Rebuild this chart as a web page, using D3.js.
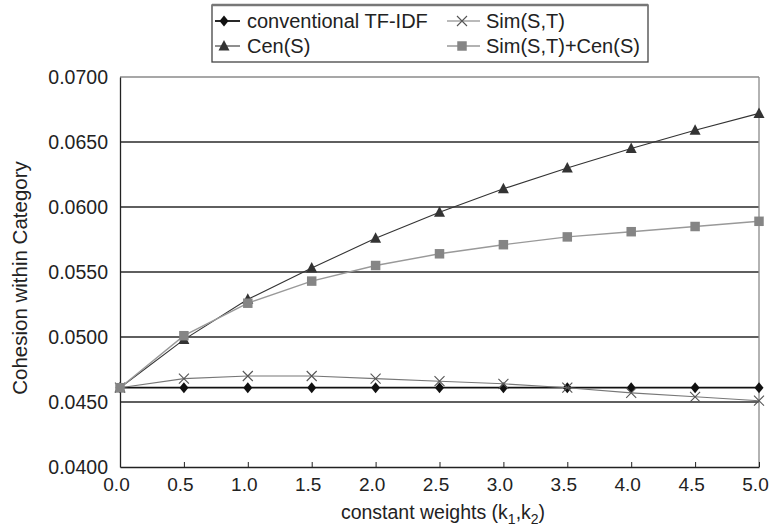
<!DOCTYPE html>
<html><head><meta charset="utf-8">
<script src="https://cdn.jsdelivr.net/npm/d3@7"></script>
<style>body{margin:0;background:#fff}svg{display:block}text{font-family:"Liberation Sans",Arial,sans-serif}</style>
</head><body><svg id="c" width="770" height="532"></svg>
<script>
const xValues = [0,0.5,1.0,1.5,2.0,2.5,3.0,3.5,4.0,4.5,5.0];
const tfidf  = [0.0461,0.0461,0.0461,0.0461,0.0461,0.0461,0.0461,0.0461,0.0461,0.0461,0.0461];
const cen    = [0.0461,0.0498,0.0529,0.0553,0.0576,0.0596,0.0614,0.0630,0.0645,0.0659,0.0672];
const sim    = [0.0461,0.0468,0.0470,0.0470,0.0468,0.0466,0.0464,0.0461,0.0457,0.0454,0.0451];
const simCen = [0.0461,0.0501,0.0526,0.0543,0.0555,0.0564,0.0571,0.0577,0.0581,0.0585,0.0589];
const yTicks = [0.040,0.045,0.050,0.055,0.060,0.065,0.070];
const xTicks = [0,0.5,1,1.5,2,2.5,3,3.5,4,4.5,5];
const seriesNames = ["conventional TF-IDF","Sim(S,T)","Cen(S)","Sim(S,T)+Cen(S)"];

const svg = d3.select("#c");
const L=120,R=759,T=77,B=467;
const x = d3.scaleLinear().domain([0,5]).range([L,R]);
const y = d3.scaleLinear().domain([0.040,0.070]).range([B,T]);

// gridlines
svg.append("g").selectAll("line").data(yTicks.filter(v=>v>0.0401&&v<0.0699)).join("line")
  .attr("x1",L).attr("x2",R).attr("y1",d=>y(d)).attr("y2",d=>y(d))
  .attr("stroke","#2a2a2a").attr("stroke-width",1.3);
// frame top/right
svg.append("line").attr("x1",L).attr("x2",R).attr("y1",T).attr("y2",T).attr("stroke","#8a8a8a").attr("stroke-width",1.3);
svg.append("line").attr("x1",R).attr("x2",R).attr("y1",T).attr("y2",B).attr("stroke","#8a8a8a").attr("stroke-width",1.3);

// axes
const xAxis = svg.append("g").attr("transform",`translate(0,${B})`)
  .call(d3.axisBottom(x).tickValues(xTicks).tickFormat(d3.format(".1f")).tickSizeInner(-5).tickSizeOuter(0).tickPadding(11));
xAxis.select(".domain").attr("stroke","#222").attr("stroke-width",1.3);
xAxis.selectAll(".tick line").attr("stroke","#222");
xAxis.selectAll("text").attr("font-size",19).attr("fill","#222").attr("dx",-4);

const yAxis = svg.append("g").attr("transform",`translate(${L},0)`)
  .call(d3.axisLeft(y).tickValues(yTicks).tickFormat(d3.format(".4f")).tickSize(0).tickPadding(12));
yAxis.select(".domain").attr("stroke","#222").attr("stroke-width",1.3);
yAxis.selectAll("text").attr("font-size",19.5).attr("fill","#222");

// axis titles
const xt = svg.append("text").attr("x",443).attr("y",519).attr("text-anchor","middle").attr("font-size",19.5).attr("fill","#222");
xt.append("tspan").text("constant weights (k");
xt.append("tspan").attr("font-size",14).attr("dy",5).text("1");
xt.append("tspan").attr("dy",-5).text(",k");
xt.append("tspan").attr("font-size",14).attr("dy",5).text("2");
xt.append("tspan").attr("dy",-5).text(")");
svg.append("text").attr("transform",`translate(27,278) rotate(-90)`).attr("text-anchor","middle")
  .attr("font-size",20.5).attr("fill","#222").text("Cohesion within Category");

// series
const styles = [
  {data:tfidf, color:"#111", width:1.8, marker:"diamond", mcolor:"#111"},
  {data:sim, color:"#777", width:1.1, marker:"x", mcolor:"#555"},
  {data:cen, color:"#333", width:1.1, marker:"triangle", mcolor:"#333"},
  {data:simCen, color:"#999", width:1.4, marker:"square", mcolor:"#858585"}
];
const line = d3.line().x((d,i)=>x(xValues[i])).y(d=>y(d));
function drawMarker(g, type, color){
  if(type==="diamond") g.append("path").attr("d","M0,-5.5L4.5,0L0,5.5L-4.5,0Z").attr("fill",color);
  else if(type==="triangle") g.append("path").attr("d","M0,-6L5.5,4.5L-5.5,4.5Z").attr("fill",color);
  else if(type==="square") g.append("path").attr("d",d3.symbol(d3.symbolSquare,90)()).attr("fill",color);
  else g.append("path").attr("d","M-5,-5L5,5M-5,5L5,-5").attr("stroke",color).attr("stroke-width",1.1).attr("fill","none");
}
[0,2,1,3].forEach(k=>{
  const s=styles[k];
  svg.append("path").datum(s.data).attr("d",line).attr("fill","none").attr("stroke",s.color).attr("stroke-width",s.width);
  s.data.forEach((v,i)=>{
    const g=svg.append("g").attr("transform",`translate(${x(xValues[i])},${y(v)})`);
    drawMarker(g,s.marker,s.mcolor);
  });
});

// legend
svg.append("rect").attr("x",212).attr("y",5).attr("width",436).attr("height",57).attr("fill","#fff").attr("stroke","#444").attr("stroke-width",1.3);
svg.append("line").attr("x1",212).attr("x2",648).attr("y1",5).attr("y2",5).attr("stroke","#777").attr("stroke-width",2.5);
const legPos = [{x1:215,x2:240,mx:224,y:21,tx:247},{x1:447,x2:480,mx:462,y:21,tx:486},
                {x1:215,x2:240,mx:224,y:46,tx:247},{x1:447,x2:480,mx:462,y:46,tx:486}];
[0,1,2,3].forEach(k=>{
  const s=styles[k], p=legPos[k];
  svg.append("line").attr("x1",p.x1).attr("x2",p.x2).attr("y1",p.y).attr("y2",p.y).attr("stroke",s.color).attr("stroke-width",s.width);
  const g=svg.append("g").attr("transform",`translate(${p.mx},${p.y})`);
  drawMarker(g,s.marker,s.mcolor);
  svg.append("text").attr("x",p.tx).attr("y",p.y+7).attr("font-size",20).attr("fill","#222").text(seriesNames[k]);
});
</script></body></html>
